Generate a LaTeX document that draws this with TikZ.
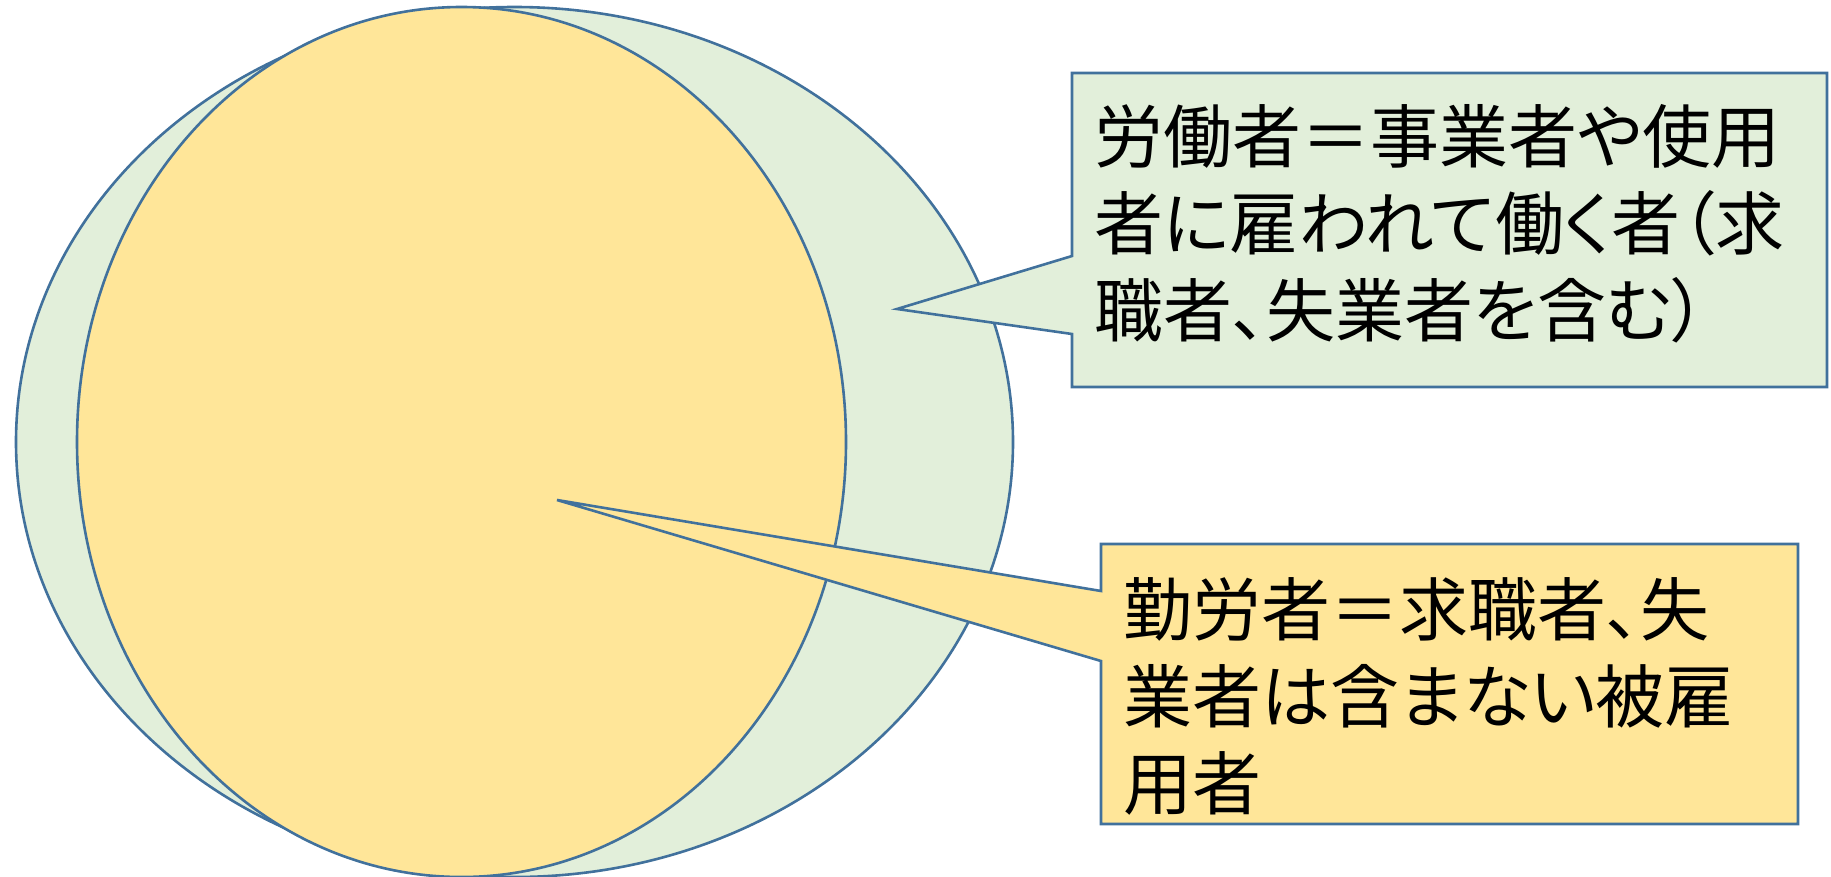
\documentclass[tikz,border=0pt]{standalone}
\usepackage{fontspec}
\newfontfamily\cjk[RawFeature=+palt]{Noto Sans CJK JP}
\definecolor{edge}{HTML}{41719C}
\definecolor{lgreen}{HTML}{E2EFDA}
\definecolor{lyellow}{HTML}{FFE699}
\tikzset{
  shapeline/.style={draw=edge, line width=2.6pt, line join=miter},
  calltext/.style={anchor=base west, inner sep=0pt, align=left, font=\cjk\fontsize{69}{87}\selectfont, text=black},
}
\begin{document}
\begin{tikzpicture}[x=1pt,y=-1pt]
\useasboundingbox (0,0) rectangle (1831,876);
% outer (green) ellipse
\draw[shapeline, fill=lgreen] (514.5,442) ellipse [x radius=498.5, y radius=435];
% inner (yellow) ellipse
\draw[shapeline, fill=lyellow] (461.5,442) ellipse [x radius=384.5, y radius=435];
% callout 1
\draw[shapeline, fill=lgreen] (1072,73) -- (1827,73) -- (1827,387) -- (1072,387) -- (1072,334) -- (897,309) -- (1072,256) -- cycle;
% callout 2
\draw[shapeline, fill=lyellow] (1101,544) -- (1798,544) -- (1798,824) -- (1101,824) -- (1101,661) -- (557,500) -- (1101,591) -- cycle;
% base west of a multi-line node is the baseline of its last line
\node[calltext] (t1) at (1094,336) {労働者＝事業者や使用\\者に雇われて働く者（求\\職者、失業者を含む）};
\node[calltext] (t2) at (1123,809) {勤労者＝求職者、失\\業者は含まない被雇\\用者};
\end{tikzpicture}
\end{document}
